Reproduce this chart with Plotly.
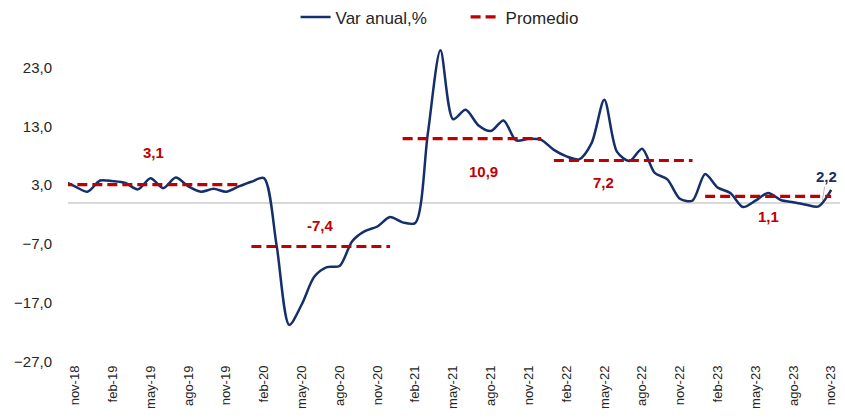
import plotly.graph_objects as go

# Monthly categories (oct-18 is partly clipped at the left edge, as in the reference)
meses = [
    "oct-18", "nov-18", "dic-18",
    "ene-19", "feb-19", "mar-19", "abr-19", "may-19", "jun-19", "jul-19", "ago-19", "sep-19", "oct-19", "nov-19", "dic-19",
    "ene-20", "feb-20", "mar-20", "abr-20", "may-20", "jun-20", "jul-20", "ago-20", "sep-20", "oct-20", "nov-20", "dic-20",
    "ene-21", "feb-21", "mar-21", "abr-21", "may-21", "jun-21", "jul-21", "ago-21", "sep-21", "oct-21", "nov-21", "dic-21",
    "ene-22", "feb-22", "mar-22", "abr-22", "may-22", "jun-22", "jul-22", "ago-22", "sep-22", "oct-22", "nov-22", "dic-22",
    "ene-23", "feb-23", "mar-23", "abr-23", "may-23", "jun-23", "jul-23", "ago-23", "sep-23", "oct-23", "nov-23",
]

var_anual = [
    3.8, 2.8, 1.9,
    3.8, 3.7, 3.4, 2.3, 4.2, 2.5, 4.3, 2.8, 1.9, 2.4, 1.9, 2.8,
    3.6, 4.2, -7.2, -20.7, -17.2, -12.5, -10.9, -10.7, -6.5, -4.8, -4.0, -2.4,
    -3.3, -3.4, 11.8, 25.9, 14.2, 15.8, 13.2, 12.2, 14.0, 10.6, 10.9, 10.7,
    9.0, 7.9, 7.4, 10.2, 17.5, 8.7, 7.1, 9.2, 5.1, 4.0, 0.7, 0.4,
    4.9, 2.6, 1.7, -0.7, 0.4, 1.7, 0.5, 0.1, -0.3, -0.6, 2.2,
]

# Average by period
periodo_inicio = ["oct-18", "ene-20", "ene-21", "ene-22", "ene-23"]
periodo_fin = ["dic-19", "dic-20", "dic-21", "dic-22", "nov-23"]
promedio = [3.1, -7.4, 10.9, 7.2, 1.1]
promedio_txt = ["3,1", "-7,4", "10,9", "7,2", "1,1"]

# Tick labels (every three months)
tick_labels = ["nov-18", "feb-19", "may-19", "ago-19", "nov-19", "feb-20", "may-20", "ago-20",
               "nov-20", "feb-21", "may-21", "ago-21", "nov-21", "feb-22", "may-22", "ago-22",
               "nov-22", "feb-23", "may-23", "ago-23", "nov-23"]
y_ticks = [-27, -17, -7, 3, 13, 23]

# index positions: nov-18 = 0
idx = {m: i - 1 for i, m in enumerate(meses)}
x_vals = [idx[m] for m in meses]

NAVY = "#142F6B"
RED = "#C00000"
FONT = "Liberation Sans, Arial, sans-serif"

fig = go.Figure()

fig.add_trace(go.Scatter(
    x=x_vals, y=var_anual, mode="lines", name="Var anual,%",
    line=dict(color=NAVY, width=2.5, shape="spline", smoothing=0.8),
    hoverinfo="skip",
))

px_, py_ = [], []
for s, e, v in zip(periodo_inicio, periodo_fin, promedio):
    px_ += [idx[s], idx[e], None]
    py_ += [v, v, None]
fig.add_trace(go.Scatter(
    x=px_, y=py_, mode="lines", name="Promedio",
    line=dict(color=RED, width=3.2, dash="10px,5px"),
    connectgaps=False, hoverinfo="skip",
))

# Average labels
label_pos = [(6.2, 8.5), (19.5, -3.9), (32.4, 5.3), (41.9, 3.4), (55.0, -2.3)]
for (lx, ly), t in zip(label_pos, promedio_txt):
    fig.add_annotation(x=lx, y=ly, text="<b>" + t + "</b>", showarrow=False,
                       font=dict(family=FONT, size=15, color=RED))

# Last value label
fig.add_annotation(x=idx[meses[-1]] - 0.7, y=0.4, text="<b>2,2</b>",
                   showarrow=True, arrowhead=0, arrowwidth=0.8, arrowcolor="#A6A6A6",
                   ax=4, ay=-24, font=dict(family=FONT, size=15, color=NAVY))

fig.update_layout(
    width=845, height=419,
    margin=dict(l=68, r=5, t=35, b=57, autoexpand=False),
    paper_bgcolor="white", plot_bgcolor="white",
    separators=",.",
    font=dict(family=FONT, size=12, color="#262626"),
    showlegend=True,
    legend=dict(orientation="h", x=0.515, xanchor="center", y=1.054, yanchor="middle",
                font=dict(family=FONT, size=17, color="#262626"),
                bgcolor="rgba(0,0,0,0)", entrywidth=125, tracegroupgap=0),
)

fig.update_xaxes(
    range=[-0.55, 60.7],
    tickmode="array", tickvals=[idx[t] for t in tick_labels], ticktext=tick_labels,
    tickangle=-90, showgrid=False, zeroline=False, showline=False, ticks="",
    tickfont=dict(family=FONT, size=13, color="#262626"),
)
fig.update_yaxes(
    range=[-27, 28.5],
    tickmode="array", tickvals=y_ticks, tickformat=".1f",
    showgrid=False, zeroline=True, zerolinecolor="#D9D9D9", zerolinewidth=1.5,
    showline=False, ticks="", ticklabelstandoff=15,
    tickfont=dict(family=FONT, size=15, color="#262626"),
)

fig.write_html("out.html", config={"displayModeBar": False},
               post_script="document.body.style.margin='0';")
